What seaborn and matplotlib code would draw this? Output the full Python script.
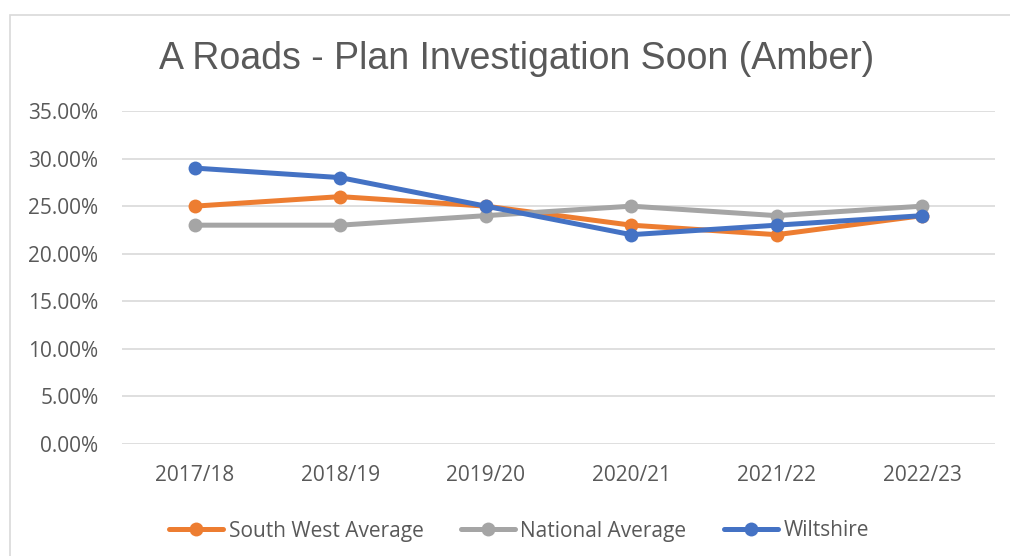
import matplotlib
matplotlib.use("Agg")
import matplotlib.pyplot as plt
import seaborn as sns
import pandas as pd
from matplotlib.ticker import PercentFormatter, MultipleLocator
from matplotlib.patches import Rectangle
from matplotlib.lines import Line2D

years = ["2017/18", "2018/19", "2019/20", "2020/21", "2021/22", "2022/23"]
south_west = [25, 26, 25, 23, 22, 24]
national = [23, 23, 24, 25, 24, 25]
wiltshire = [29, 28, 25, 22, 23, 24]
series_names = ["South West Average", "National Average", "Wiltshire"]
colors = ["#ED7D31", "#A5A5A5", "#4472C4"]

rows = []
for name, vals in zip(series_names, [south_west, national, wiltshire]):
    for i, (y, v) in enumerate(zip(years, vals)):
        rows.append({"idx": i, "year": y, "value": v / 100, "series": name})
df = pd.DataFrame(rows)

sns.set_theme(style="white")
plt.rcParams["font.family"] = ["Open Sans", "DejaVu Sans"]

fig = plt.figure(figsize=(10.1, 5.56), dpi=100)
ax = fig.add_axes([122/1010, 1-444/556, (995-122)/1010, (444-111)/556])

fig.patches.append(Rectangle((10/1010, -0.1), 1.2, 1-15/556+0.1, transform=fig.transFigure,
                             fill=False, edgecolor="#D9D9D9", linewidth=1.2))

sns.lineplot(data=df, x="idx", y="value", hue="series", hue_order=series_names,
             palette=colors, marker="o", markersize=10, markeredgewidth=0,
             linewidth=3.6, sort=False, ax=ax, legend=False)

ax.set_xlim(-0.5, 5.5)
ax.set_ylim(0, 0.35)
ax.yaxis.set_major_locator(MultipleLocator(0.05))
ax.yaxis.set_major_formatter(PercentFormatter(1.0, decimals=2))
ax.set_xticks(range(len(years)))
ax.set_xticklabels(years)
ax.grid(axis="y", color="#D9D9D9", linewidth=1.2)
ax.set_axisbelow(True)
for s in ax.spines.values():
    s.set_visible(False)
ax.tick_params(axis="both", length=0, labelsize=15, labelcolor="#595959")
ax.tick_params(axis="x", pad=15)
ax.tick_params(axis="y", pad=17)
ax.set_xlabel("")
ax.set_ylabel("")

fig.text(517/1010, 1-59/556, "A Roads - Plan Investigation Soon (Amber)", ha="center", va="center",
         fontsize=27, color="#595959", family=["Liberation Sans", "DejaVu Sans"])

handles = [Line2D([], [], color=c, linewidth=3.6, marker="o", markersize=10, markeredgewidth=0) for c in colors]
fig.legend(handles, series_names, loc="center", bbox_to_anchor=(519/1010, 1-531/556), ncol=3,
           frameon=False, fontsize=15, labelcolor="#595959", handlelength=2.6, handletextpad=0.25,
           columnspacing=1.8)

fig.savefig("out.png", dpi=100)
